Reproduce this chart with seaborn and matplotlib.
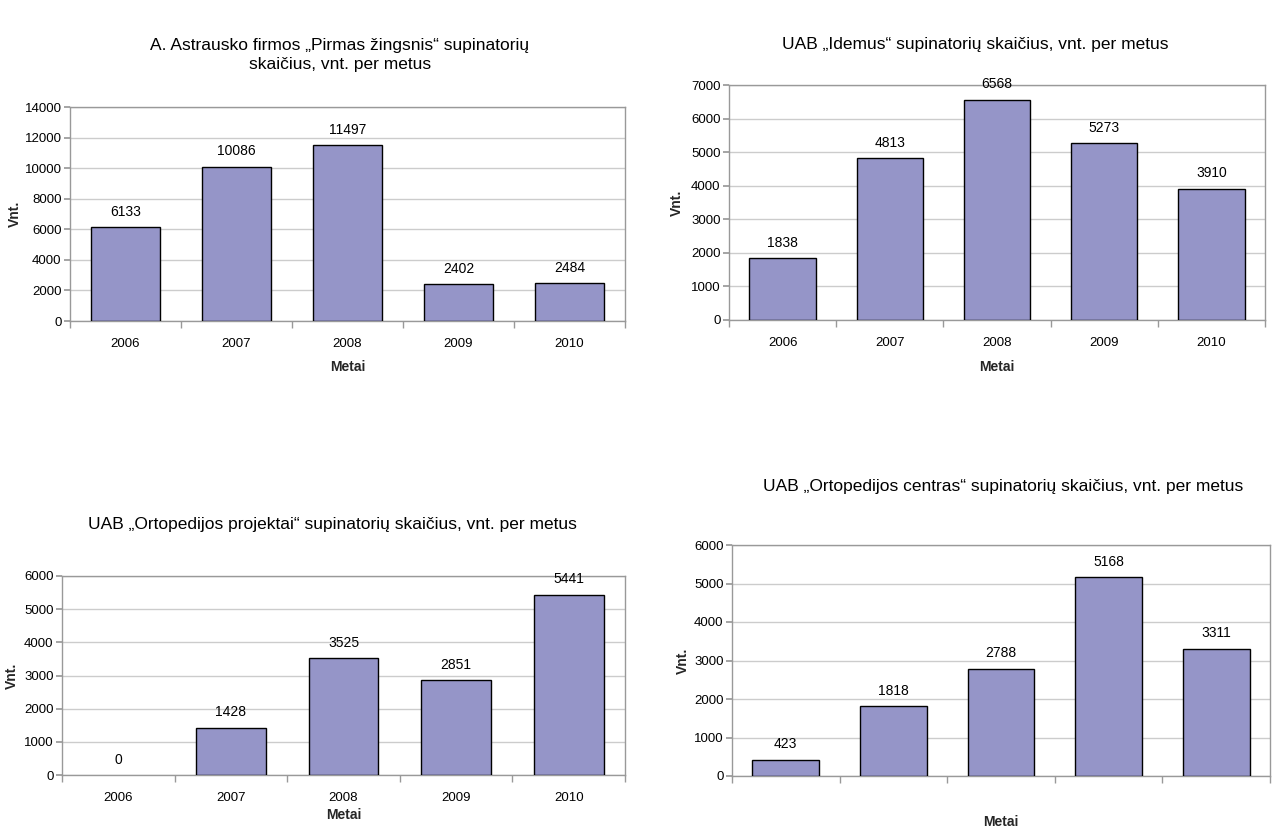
import matplotlib
matplotlib.use("Agg")
import matplotlib.pyplot as plt
from matplotlib import font_manager
import seaborn as sns
import pandas as pd

years = ["2006", "2007", "2008", "2009", "2010"]

titles = [
    "A. Astrausko firmos „Pirmas žingsnis“ supinatorių\nskaičius, vnt. per metus",
    "UAB „Idemus“ supinatorių skaičius, vnt. per metus",
    "UAB „Ortopedijos projektai“ supinatorių skaičius, vnt. per metus",
    "UAB „Ortopedijos centras“ supinatorių skaičius, vnt. per metus",
]

pirmas_zingsnis = [6133, 10086, 11497, 2402, 2484]
idemus = [1838, 4813, 6568, 5273, 3910]
ortopedijos_projektai = [0, 1428, 3525, 2851, 5441]
ortopedijos_centras = [423, 1818, 2788, 5168, 3311]

y_max = [14000, 7000, 6000, 6000]
y_step = [2000, 1000, 1000, 1000]
show_xticklabels = [True, True, True, False]

x_label = "Metai"
y_label = "Vnt."

series = [pirmas_zingsnis, idemus, ortopedijos_projektai, ortopedijos_centras]

sns.set_theme(style="white")
names = {f.name for f in font_manager.fontManager.ttflist}
narrow = "Liberation Sans Narrow" if "Liberation Sans Narrow" in names else "Liberation Sans"
plt.rcParams["font.family"] = ["Liberation Sans", "DejaVu Sans"]

W, H = 1279, 827
fig = plt.figure(figsize=(W / 100, H / 100), dpi=100)
fig.patch.set_facecolor("white")

# pixel rectangles (left, top, right, bottom)
rects = [(70, 107, 625, 321), (729, 85, 1265, 320), (62, 576, 625, 775), (732, 545, 1270, 776)]
title_pos = [(340, 55), (975, 45), (332, 524), (1003, 487)]
xlabel_y = [367, 367, 815, 822]
ylabel_x = [15, 677, 12, 683]

bar_color = "#9595C8"
spine_color = "#999999"

for i, vals in enumerate(series):
    l, t, r, b = rects[i]
    ax = fig.add_axes([l / W, 1 - b / H, (r - l) / W, (b - t) / H])
    df = pd.DataFrame({"year": years, "value": vals})
    sns.barplot(data=df, x="year", y="value", color=bar_color, edgecolor="black",
                linewidth=1.0, width=0.62, saturation=1, ax=ax, zorder=3)
    for patch, v in zip(ax.patches, vals):
        if v == 0:
            patch.set_linewidth(0)
    ax.set_xlim(-0.5, len(years) - 0.5)
    ax.set_ylim(0, y_max[i])
    ax.set_yticks(range(0, y_max[i] + 1, y_step[i]))
    ax.yaxis.grid(True, color="#cccccc", linewidth=1.0, zorder=0)
    ax.set_axisbelow(True)
    for s in ax.spines.values():
        s.set_color(spine_color)
        s.set_linewidth(1.0)
    ax.set_xticks([k - 0.5 for k in range(len(years) + 1)], minor=True)
    ax.tick_params(axis="x", which="minor", length=5, color=spine_color, direction="out", bottom=True)
    ax.tick_params(axis="x", which="major", length=0, pad=12)
    ax.tick_params(axis="y", length=4, color=spine_color, direction="out", left=True, pad=2)
    for lab in ax.get_yticklabels() + ax.get_xticklabels():
        lab.set_fontfamily(narrow)
        lab.set_fontsize(9.5)
        lab.set_color("black")
    if not show_xticklabels[i]:
        ax.set_xticklabels([])
    ax.set_xlabel("")
    ax.set_ylabel("")
    for c in ax.containers:
        ax.bar_label(c, labels=[str(v) for v in vals], padding=6, fontsize=10,
                     fontfamily=narrow, color="black")
    cx = (l + r) / 2
    fig.text(title_pos[i][0] / W, 1 - title_pos[i][1] / H, titles[i], ha="center", va="center",
             fontsize=12.5, color="black", linespacing=1.3)
    fig.text(cx / W, 1 - xlabel_y[i] / H, x_label, ha="center", va="center",
             fontsize=10, fontweight="bold", fontfamily=narrow)
    fig.text(ylabel_x[i] / W, 1 - ((t + b) / 2) / H, y_label, ha="center", va="center",
             rotation=90, fontsize=10, fontweight="bold", fontfamily=narrow)

fig.savefig("out.png", dpi=100, facecolor="white")
